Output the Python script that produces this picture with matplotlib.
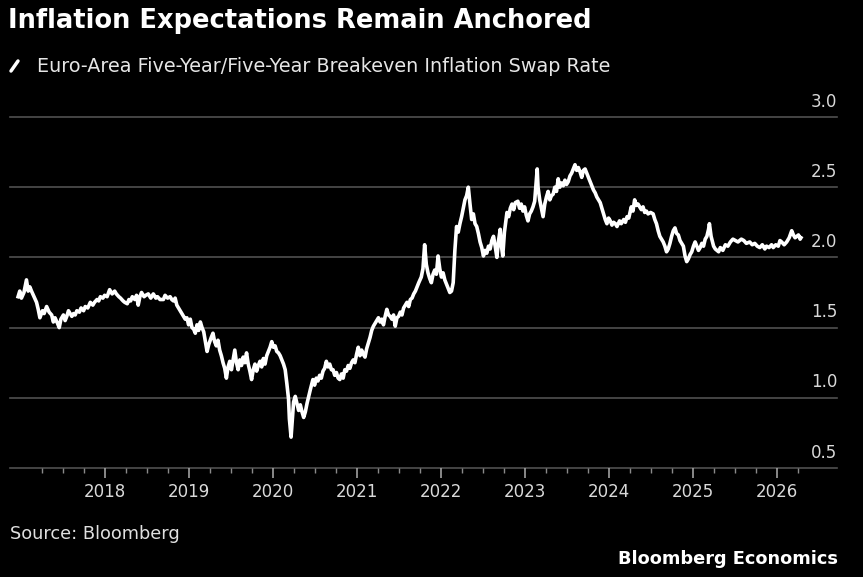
import matplotlib.pyplot as plt
import matplotlib.transforms as mtransforms
from matplotlib.lines import Line2D

# Euro-area 5y5y breakeven inflation swap (decimal years)
d2017 = [2016.97, 2016.99, 2017.01, 2017.04, 2017.07, 2017.09, 2017.11, 2017.13, 2017.16, 2017.19,
         2017.21, 2017.23, 2017.26, 2017.28, 2017.31, 2017.34, 2017.37, 2017.39, 2017.41, 2017.44,
         2017.46, 2017.48, 2017.51, 2017.53, 2017.55, 2017.57, 2017.59, 2017.61, 2017.63, 2017.65,
         2017.67, 2017.70, 2017.72, 2017.75, 2017.77, 2017.80, 2017.83, 2017.86, 2017.88, 2017.91,
         2017.93, 2017.95, 2017.98]
r2017 = [1.72, 1.76, 1.71, 1.75, 1.84, 1.76, 1.79, 1.76, 1.72, 1.68,
         1.63, 1.57, 1.62, 1.60, 1.65, 1.61, 1.59, 1.54, 1.57, 1.53,
         1.50, 1.56, 1.59, 1.55, 1.58, 1.62, 1.60, 1.58, 1.60, 1.59,
         1.62, 1.61, 1.64, 1.62, 1.65, 1.64, 1.68, 1.66, 1.68, 1.70,
         1.69, 1.72, 1.71]

d2018 = [2018.00, 2018.03, 2018.06, 2018.09, 2018.12, 2018.14, 2018.17, 2018.19, 2018.22, 2018.24,
         2018.27, 2018.29, 2018.31, 2018.33, 2018.36, 2018.38, 2018.40, 2018.42, 2018.44, 2018.47,
         2018.49, 2018.52, 2018.55, 2018.58, 2018.61, 2018.63, 2018.66, 2018.70, 2018.72, 2018.75,
         2018.78, 2018.80, 2018.82, 2018.84, 2018.86, 2018.89, 2018.91, 2018.93, 2018.96, 2018.98]
r2018 = [1.73, 1.72, 1.77, 1.74, 1.76, 1.74, 1.72, 1.71, 1.69, 1.68,
         1.67, 1.70, 1.69, 1.72, 1.70, 1.73, 1.66, 1.72, 1.75, 1.72,
         1.73, 1.74, 1.71, 1.74, 1.71, 1.72, 1.70, 1.70, 1.73, 1.71,
         1.72, 1.70, 1.69, 1.71, 1.66, 1.63, 1.61, 1.59, 1.56, 1.57]

d2019 = [2019.00, 2019.02, 2019.04, 2019.06, 2019.08, 2019.10, 2019.12, 2019.14, 2019.16, 2019.18,
         2019.20, 2019.22, 2019.24, 2019.27, 2019.29, 2019.31, 2019.33, 2019.35, 2019.37, 2019.39,
         2019.41, 2019.43, 2019.45, 2019.47, 2019.49, 2019.51, 2019.53, 2019.55, 2019.57, 2019.59,
         2019.61, 2019.63, 2019.65, 2019.67, 2019.69, 2019.71, 2019.73, 2019.75, 2019.77, 2019.79,
         2019.81, 2019.83, 2019.85, 2019.87, 2019.89, 2019.91, 2019.93, 2019.95, 2019.97, 2019.99]
r2019 = [1.52, 1.56, 1.50, 1.49, 1.46, 1.52, 1.48, 1.54, 1.50, 1.47,
         1.40, 1.33, 1.38, 1.43, 1.46, 1.40, 1.37, 1.41, 1.34, 1.30,
         1.25, 1.21, 1.14, 1.22, 1.26, 1.20, 1.27, 1.34, 1.25, 1.20,
         1.27, 1.23, 1.29, 1.25, 1.32, 1.24, 1.19, 1.13, 1.20, 1.24,
         1.19, 1.23, 1.26, 1.22, 1.28, 1.24, 1.30, 1.33, 1.36, 1.40]

d2020 = [2020.01, 2020.03, 2020.05, 2020.07, 2020.09, 2020.11, 2020.13, 2020.15, 2020.17, 2020.19,
         2020.20, 2020.22, 2020.24, 2020.25,
         2020.27, 2020.29, 2020.31, 2020.33, 2020.35, 2020.37, 2020.39, 2020.41, 2020.43, 2020.45,
         2020.48, 2020.50, 2020.52, 2020.54, 2020.56, 2020.58, 2020.60, 2020.62, 2020.64, 2020.66,
         2020.68, 2020.70, 2020.72, 2020.74, 2020.76, 2020.78, 2020.80, 2020.82, 2020.84, 2020.86,
         2020.88, 2020.90, 2020.92, 2020.94, 2020.96, 2020.98]
r2020 = [1.36, 1.37, 1.33, 1.32, 1.30, 1.27, 1.24, 1.20, 1.10, 0.99,
         0.85, 0.72, 0.88, 0.97,
         1.01, 0.96, 0.91, 0.95, 0.90, 0.86, 0.90, 0.96, 1.01, 1.06,
         1.13, 1.09, 1.14, 1.12, 1.16, 1.14, 1.19, 1.21, 1.26, 1.22,
         1.24, 1.20, 1.20, 1.16, 1.18, 1.14, 1.13, 1.17, 1.14, 1.20,
         1.19, 1.23, 1.21, 1.25, 1.27, 1.25]

d2021 = [2021.00, 2021.02, 2021.04, 2021.06, 2021.08, 2021.10, 2021.12, 2021.14, 2021.16, 2021.18,
         2021.20, 2021.22, 2021.24, 2021.26, 2021.28, 2021.30, 2021.32, 2021.34, 2021.36, 2021.38,
         2021.40, 2021.42, 2021.44, 2021.46, 2021.48, 2021.50, 2021.52, 2021.54, 2021.56, 2021.58,
         2021.60, 2021.62, 2021.64, 2021.66, 2021.68, 2021.70, 2021.72, 2021.74,
         2021.77, 2021.79, 2021.81, 2021.83, 2021.85, 2021.87, 2021.89, 2021.91, 2021.93, 2021.95,
         2021.97, 2021.99]
r2021 = [1.31, 1.36, 1.30, 1.34, 1.31, 1.29, 1.35, 1.39, 1.43, 1.48,
         1.51, 1.53, 1.55, 1.57, 1.54, 1.56, 1.52, 1.58, 1.63, 1.59,
         1.58, 1.56, 1.59, 1.51, 1.57, 1.58, 1.61, 1.59, 1.64, 1.66,
         1.68, 1.65, 1.70, 1.71, 1.74, 1.76, 1.79, 1.82,
         1.86, 1.92, 2.09, 1.95, 1.89, 1.85, 1.82, 1.88, 1.91, 1.88,
         2.01, 1.92]

d2022 = [2022.01, 2022.03, 2022.05, 2022.07, 2022.09, 2022.11, 2022.13, 2022.15, 2022.17, 2022.19,
         2022.21, 2022.23, 2022.25, 2022.27, 2022.29, 2022.31, 2022.33, 2022.35, 2022.37, 2022.39,
         2022.41, 2022.43, 2022.45, 2022.47, 2022.49, 2022.51, 2022.53, 2022.55, 2022.57, 2022.59,
         2022.61, 2022.63, 2022.65, 2022.67, 2022.69, 2022.71, 2022.72, 2022.74, 2022.76,
         2022.79, 2022.81, 2022.83, 2022.85, 2022.87, 2022.89, 2022.92, 2022.94, 2022.96, 2022.98]
r2022 = [1.86, 1.89, 1.84, 1.81, 1.78, 1.75, 1.76, 1.82, 2.05, 2.22,
         2.18, 2.24, 2.29, 2.35, 2.41, 2.44, 2.50, 2.38, 2.27, 2.31,
         2.24, 2.22, 2.17, 2.11, 2.07, 2.01, 2.05, 2.03, 2.08, 2.06,
         2.12, 2.15, 2.08, 2.00, 2.12, 2.20, 2.10, 2.01, 2.18,
         2.32, 2.29, 2.35, 2.38, 2.34, 2.39, 2.40, 2.35, 2.38, 2.33]

d2023 = [2023.00, 2023.02, 2023.04, 2023.06, 2023.08, 2023.10, 2023.12, 2023.15, 2023.16, 2023.18,
         2023.20, 2023.22, 2023.24, 2023.26, 2023.28, 2023.30, 2023.32, 2023.34, 2023.36, 2023.38,
         2023.40, 2023.42, 2023.44, 2023.46, 2023.48, 2023.50, 2023.52, 2023.54, 2023.56, 2023.58,
         2023.60, 2023.62, 2023.64, 2023.66, 2023.68, 2023.70, 2023.72, 2023.74, 2023.76, 2023.78,
         2023.80, 2023.82, 2023.84, 2023.86, 2023.88, 2023.90, 2023.92, 2023.94, 2023.96, 2023.98]
r2023 = [2.36, 2.30, 2.26, 2.31, 2.33, 2.36, 2.40, 2.63, 2.50, 2.41,
         2.35, 2.29, 2.38, 2.43, 2.47, 2.41, 2.44, 2.45, 2.50, 2.47,
         2.56, 2.50, 2.53, 2.51, 2.55, 2.52, 2.54, 2.58, 2.60, 2.63,
         2.66, 2.62, 2.64, 2.61, 2.57, 2.62, 2.63, 2.60, 2.57, 2.54,
         2.51, 2.48, 2.46, 2.43, 2.41, 2.39, 2.35, 2.31, 2.27, 2.24]

d2024 = [2024.00, 2024.02, 2024.04, 2024.06, 2024.08, 2024.10, 2024.13, 2024.15, 2024.18, 2024.20,
         2024.22, 2024.24, 2024.27, 2024.29, 2024.31, 2024.33, 2024.35, 2024.37, 2024.39, 2024.41,
         2024.43, 2024.45, 2024.47, 2024.50, 2024.53, 2024.55, 2024.57, 2024.59, 2024.61, 2024.63,
         2024.65, 2024.67, 2024.69, 2024.71, 2024.73, 2024.75, 2024.77, 2024.79, 2024.81, 2024.83,
         2024.85, 2024.87, 2024.89, 2024.91, 2024.93, 2024.95, 2024.97, 2024.99]
r2024 = [2.28, 2.26, 2.23, 2.25, 2.24, 2.22, 2.26, 2.24, 2.27, 2.25,
         2.29, 2.28, 2.36, 2.33, 2.41, 2.37, 2.38, 2.36, 2.34, 2.36,
         2.32, 2.33, 2.31, 2.32, 2.31, 2.27, 2.24, 2.19, 2.15, 2.13,
         2.11, 2.08, 2.04, 2.06, 2.10, 2.15, 2.19, 2.21, 2.17, 2.16,
         2.12, 2.10, 2.08, 2.01, 1.97, 1.99, 2.02, 2.04]

d2025 = [2025.01, 2025.03, 2025.05, 2025.07, 2025.09, 2025.11, 2025.13, 2025.15, 2025.17, 2025.19,
         2025.20, 2025.22, 2025.25, 2025.27, 2025.29, 2025.31, 2025.33, 2025.36, 2025.39, 2025.42,
         2025.45, 2025.48, 2025.51, 2025.54, 2025.58, 2025.61, 2025.64, 2025.68, 2025.71, 2025.74,
         2025.77, 2025.80, 2025.83, 2025.86, 2025.88, 2025.91, 2025.94, 2025.96, 2025.99]
r2025 = [2.08, 2.11, 2.08, 2.05, 2.07, 2.10, 2.08, 2.13, 2.15, 2.20,
         2.24, 2.15, 2.08, 2.06, 2.05, 2.04, 2.07, 2.05, 2.09, 2.08,
         2.11, 2.13, 2.12, 2.11, 2.13, 2.12, 2.10, 2.11, 2.09, 2.10,
         2.08, 2.07, 2.09, 2.06, 2.08, 2.07, 2.09, 2.07, 2.09]

d2026 = [2026.02, 2026.04, 2026.06, 2026.09, 2026.12, 2026.15, 2026.18, 2026.20, 2026.22, 2026.24,
         2026.26, 2026.28, 2026.29]
r2026 = [2.08, 2.12, 2.11, 2.09, 2.11, 2.14, 2.19, 2.16, 2.14, 2.15,
         2.16, 2.13, 2.14]

dates = d2017 + d2018 + d2019 + d2020 + d2021 + d2022 + d2023 + d2024 + d2025 + d2026
rates = r2017 + r2018 + r2019 + r2020 + r2021 + r2022 + r2023 + r2024 + r2025 + r2026

years = [2018, 2019, 2020, 2021, 2022, 2023, 2024, 2025, 2026]
quarters = [y + q for y in range(2017, 2027) for q in (0.25, 0.5, 0.75) if y + q <= 2026.25]
y_levels = [0.5, 1.0, 1.5, 2.0, 2.5, 3.0]

W, H = 863, 577
fig = plt.figure(figsize=(W / 100, H / 100), dpi=100, facecolor="black")
ax = fig.add_axes([10 / W, 109 / H, 827 / W, 351 / H])
ax.set_facecolor("black")
ax.set_xlim(2016.874, 2026.719)
ax.set_ylim(0.5, 3.0)

# grid lines + right side labels sitting on top of them
lab_tr = mtransforms.offset_copy(ax.get_yaxis_transform(), fig=fig, x=0, y=7.5, units="points")
for v in y_levels:
    ax.axhline(v, color="#505050", lw=1.2, zorder=1, clip_on=False)
    ax.text(1.0, v, f"{v:.1f}", transform=lab_tr, ha="right", va="baseline",
            color="#d9d9d9", fontsize=12)

ax.plot(dates, rates, color="white", lw=2.6, zorder=3, solid_joinstyle="round")

for s in ax.spines.values():
    s.set_visible(False)
ax.set_yticks([])
ax.set_xticks(years)
ax.set_xticklabels([str(y) for y in years])
ax.set_xticks(quarters, minor=True)
ax.tick_params(axis="x", which="major", length=7, width=1.2, color="#a0a0a0",
               labelcolor="#d9d9d9", labelsize=12, pad=4)
ax.tick_params(axis="x", which="minor", length=3.5, width=1, color="#8a8a8a")

# headings
fig.text(8 / W, 1 - 28 / H, "Inflation Expectations Remain Anchored", color="white",
         fontsize=18.5, fontweight="bold", va="baseline", ha="left")
fig.add_artist(Line2D([11 / W, 18 / W], [1 - 71 / H, 1 - 61 / H], transform=fig.transFigure,
                      color="white", lw=2.5, solid_capstyle="round"))
fig.text(37 / W, 1 - 72 / H, "Euro-Area Five-Year/Five-Year Breakeven Inflation Swap Rate",
         color="#e6e6e6", fontsize=13.8, va="baseline", ha="left")

# footer
fig.text(10 / W, 1 - 539 / H, "Source: Bloomberg", color="#e0e0e0", fontsize=12.8,
         va="baseline", ha="left")
fig.text(838 / W, 1 - 564 / H, "Bloomberg Economics", color="white", fontsize=12.8,
         fontweight="bold", va="baseline", ha="right")

fig.savefig("out.png", dpi=100, facecolor="black")
